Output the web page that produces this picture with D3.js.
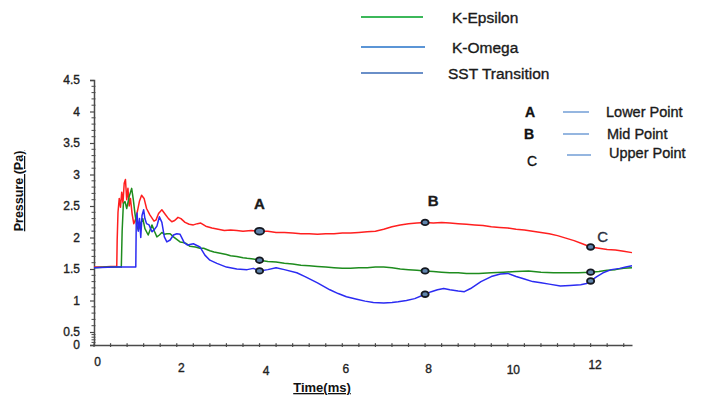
<!DOCTYPE html>
<html>
<head>
<meta charset="utf-8">
<script src="https://cdn.jsdelivr.net/npm/d3@7"></script>
<style>
  html, body { margin: 0; padding: 0; background: #fff; }
  svg { display: block; font-family: "Liberation Sans", Arial, sans-serif; }
  .heavy { stroke-width: 0.35px; paint-order: fill; }
</style>
</head>
<body>
<svg id="chart" width="708" height="399"></svg>
<script>
// ---- data -------------------------------------------------------------
const timeTicks = [0, 2, 4, 6, 8, 10, 12];
const pressureTicks = [0, 0.5, 1, 1.5, 2, 2.5, 3, 3.5, 4, 4.5];

const modelNames = ["K-Epsilon", "K-Omega", "SST Transition"];
const modelLegendColors = ["#3cb85a", "#5b95d6", "#6a8fc8"];

const probeLetters = ["A", "B", "C"];
const probeNames = ["Lower Point", "Mid Point", "Upper Point"];
const probeTimes = [4, 8, 12];

// pressure histories: [time (ms), pressure (Pa)]
const redSeries = [
  [0,1.53],[0.2,1.53],[0.4,1.54],[0.55,1.54],[0.56,1.96],[0.58,2.40],[0.61,2.62],[0.64,2.48],
  [0.67,2.72],[0.70,2.55],[0.73,2.86],[0.76,2.92],[0.79,2.60],[0.82,2.78],[0.85,2.50],[0.88,2.62],
  [0.92,2.38],[0.96,2.22],[1.00,2.28],[1.05,2.42],[1.10,2.58],[1.15,2.67],[1.21,2.62],[1.27,2.46],
  [1.35,2.36],[1.45,2.26],[1.50,2.28],[1.56,2.38],[1.64,2.44],[1.72,2.37],[1.80,2.30],[1.88,2.25],
  [1.95,2.27],[2.03,2.32],[2.10,2.30],[2.20,2.24],[2.30,2.21],[2.40,2.20],[2.50,2.22],[2.58,2.23],
  [2.70,2.18],[2.85,2.15],[3.0,2.13],[3.15,2.11],[3.3,2.12],[3.45,2.11],[3.6,2.10],[3.8,2.11],
  [4.0,2.10],[4.2,2.10],[4.4,2.08],[4.6,2.08],[4.8,2.07],[5.0,2.06],[5.2,2.06],[5.4,2.05],
  [5.6,2.06],[5.8,2.06],[6.0,2.07],[6.2,2.07],[6.4,2.08],[6.6,2.09],[6.8,2.10],[7.0,2.13],
  [7.2,2.17],[7.4,2.20],[7.6,2.22],[7.8,2.23],[8.0,2.24],[8.2,2.23],[8.4,2.24],[8.6,2.23],
  [8.8,2.22],[9.0,2.21],[9.2,2.20],[9.4,2.19],[9.6,2.17],[9.8,2.16],[10.0,2.15],[10.2,2.13],
  [10.4,2.12],[10.6,2.10],[10.8,2.08],[11.0,2.06],[11.2,2.03],[11.4,1.99],[11.6,1.95],[11.8,1.90],
  [12.0,1.85],[12.2,1.83],[12.4,1.81],[12.6,1.80],[12.8,1.78],[13.0,1.76]
];

const greenSeries = [
  [0,1.52],[0.3,1.53],[0.66,1.53],[0.68,2.10],[0.71,2.54],[0.75,2.57],[0.79,2.46],[0.85,2.65],
  [0.91,2.78],[0.95,2.60],[0.99,2.38],[1.03,2.20],[1.07,2.12],[1.11,2.20],[1.18,2.30],[1.23,2.14],
  [1.31,2.04],[1.40,2.20],[1.46,2.10],[1.52,2.01],[1.58,2.04],[1.64,2.08],[1.70,2.05],[1.76,2.06],
  [1.84,2.06],[1.92,2.01],[2.0,1.97],[2.08,1.93],[2.16,1.92],[2.24,1.90],[2.32,1.86],[2.45,1.85],
  [2.56,1.83],[2.65,1.83],[2.8,1.79],[2.9,1.77],[3.05,1.75],[3.2,1.73],[3.3,1.71],[3.45,1.70],
  [3.6,1.68],[3.7,1.67],[3.85,1.66],[4.0,1.64],[4.2,1.62],[4.4,1.61],[4.6,1.59],[4.8,1.58],
  [5.0,1.56],[5.2,1.55],[5.4,1.54],[5.6,1.53],[5.8,1.52],[6.0,1.51],[6.2,1.51],[6.4,1.52],
  [6.6,1.52],[6.8,1.53],[7.0,1.53],[7.2,1.52],[7.4,1.50],[7.6,1.49],[7.8,1.48],[8.0,1.47],
  [8.2,1.46],[8.4,1.45],[8.6,1.44],[8.8,1.44],[9.0,1.43],[9.3,1.43],[9.6,1.44],[9.9,1.45],
  [10.2,1.46],[10.5,1.47],[10.8,1.45],[11.1,1.44],[11.4,1.44],[11.7,1.44],[12.0,1.45],[12.2,1.46],
  [12.4,1.48],[12.6,1.49],[12.8,1.51],[13.0,1.52]
];

const blueSeries = [
  [0,1.52],[0.5,1.53],[1.01,1.53],[1.02,2.20],[1.04,2.39],[1.07,2.10],[1.10,2.30],[1.13,2.00],
  [1.16,2.35],[1.20,2.44],[1.23,2.30],[1.27,2.22],[1.33,2.20],[1.40,2.09],[1.45,2.12],[1.52,2.18],
  [1.58,2.33],[1.64,2.24],[1.70,2.01],[1.76,1.93],[1.84,1.96],[1.92,2.04],[2.0,2.06],[2.08,2.05],
  [2.18,1.92],[2.26,1.88],[2.40,1.90],[2.56,1.85],[2.68,1.72],[2.80,1.64],[2.97,1.59],[3.2,1.53],
  [3.45,1.50],[3.7,1.49],[3.85,1.51],[4.0,1.47],[4.2,1.49],[4.4,1.52],[4.6,1.49],[4.9,1.44],
  [5.1,1.38],[5.4,1.28],[5.7,1.17],[5.9,1.11],[6.1,1.06],[6.35,1.02],[6.55,0.99],[6.75,0.97],
  [7.0,0.96],[7.2,0.97],[7.35,0.98],[7.55,1.00],[7.75,1.03],[8.0,1.10],[8.15,1.14],[8.3,1.17],
  [8.45,1.19],[8.6,1.17],[8.8,1.15],[8.95,1.14],[9.1,1.19],[9.35,1.30],[9.6,1.38],[9.82,1.42],
  [10.0,1.43],[10.2,1.38],[10.4,1.34],[10.6,1.30],[10.8,1.28],[11.0,1.26],[11.27,1.23],[11.5,1.24],
  [11.76,1.25],[11.9,1.27],[12.0,1.31],[12.15,1.38],[12.3,1.44],[12.5,1.49],[12.7,1.51],[12.85,1.53],
  [13.0,1.55]
];

const curves = [
  { values: redSeries,   color: "#ff1f1f" },
  { values: greenSeries, color: "#1e8c1e" },
  { values: blueSeries,  color: "#2b2bf2" }
];

// ---- layout ------------------------------------------------------------
const svg = d3.select("#chart");
const x = d3.scaleLinear().domain([0, 13]).range([94, 632]);
// the axis compresses the 0 – 0.5 band
const y = d3.scaleLinear().domain([0, 0.5, 4.5]).range([345, 332, 80]);

const axisColor = "#4a4a4a";
const labelColor = "#222";

// x tick label nudges (dx, baseline)
const xLabelNudge = [[3, 366], [4, 372], [6, 375], [3, 373], [3, 373], [5, 374], [4, 369]];

// ---- axes ----------------------------------------------------------------
const axes = svg.append("g");

// y axis
const yAxis = axes.append("g").attr("transform", `translate(${x(0)},0)`)
  .call(d3.axisLeft(y).tickValues(pressureTicks).tickSize(4).tickPadding(10)
    .tickFormat(d3.format("")));
yAxis.select(".domain").attr("stroke", axisColor).attr("stroke-width", 1.5);
yAxis.selectAll(".tick line").attr("stroke", axisColor).attr("stroke-width", 1.2).attr("x2", -4);
yAxis.selectAll(".tick text").attr("fill", labelColor).attr("font-size", 12)
  .attr("font-family", "Liberation Sans, Arial, sans-serif").attr("x", -14)
  .attr("class", "heavy").attr("stroke", labelColor);

axes.append("g").selectAll("line")
  .data(d3.range(0, 45).map(i => i / 10).filter(v => !pressureTicks.includes(v)))
  .join("line")
  .attr("x1", x(0) - 2.5).attr("x2", x(0) + 1.5)
  .attr("y1", d => y(d)).attr("y2", d => y(d))
  .attr("stroke", axisColor).attr("stroke-width", 1);

// x axis
const xAxis = axes.append("g").attr("transform", `translate(0,${y(0)})`)
  .call(d3.axisBottom(x).tickValues(timeTicks).tickSize(0).tickFormat(d3.format("")));
xAxis.select(".domain").attr("stroke", axisColor).attr("stroke-width", 1.5);
xAxis.selectAll(".tick text").attr("fill", labelColor).attr("font-size", 12)
  .attr("font-family", "Liberation Sans, Arial, sans-serif")
  .attr("class", "heavy").attr("stroke", labelColor)
  .attr("dy", null)
  .attr("x", (d, i) => xLabelNudge[i][0])
  .attr("y", (d, i) => xLabelNudge[i][1] - y(0));

axes.append("g").selectAll("line")
  .data(d3.range(0, 33).map(i => i * 0.4))
  .join("line")
  .attr("x1", d => x(d)).attr("x2", d => x(d))
  .attr("y1", y(0) - 1.8).attr("y2", y(0) + 2)
  .attr("stroke", axisColor).attr("stroke-width", 1.2);

// axis titles
svg.append("text")
  .attr("transform", `translate(23,191) rotate(-90)`)
  .attr("text-anchor", "middle")
  .attr("font-size", 12.5).attr("font-weight", "bold").attr("fill", "#111")
  .style("text-decoration", "underline")
  .text("Pressure (Pa)");

svg.append("text")
  .attr("x", 322).attr("y", 392)
  .attr("text-anchor", "middle")
  .attr("font-size", 13).attr("font-weight", "bold").attr("fill", "#111")
  .style("text-decoration", "underline")
  .text("Time(ms)");

// ---- curves -----------------------------------------------------------------
const line = d3.line().x(d => x(d[0])).y(d => y(d[1]));

svg.append("g").selectAll("path")
  .data(curves)
  .join("path")
  .attr("d", d => line(d.values))
  .attr("fill", "none")
  .attr("stroke", d => d.color)
  .attr("stroke-width", 1.5)
  .attr("stroke-linejoin", "round");

// probe markers on every curve
const bisect = d3.bisector(d => d[0]).left;
function valueAt(values, t) {
  const i = Math.max(1, Math.min(values.length - 1, bisect(values, t)));
  const a = values[i - 1], b = values[i];
  return a[1] + (b[1] - a[1]) * (t - a[0]) / (b[0] - a[0]);
}

const markers = [];
curves.forEach((c, ci) => probeTimes.forEach(t => markers.push({ t, p: valueAt(c.values, t), big: ci === 0 && t === probeTimes[0] })));

svg.append("g").selectAll("ellipse")
  .data(markers)
  .join("ellipse")
  .attr("cx", d => x(d.t)).attr("cy", d => y(d.p))
  .attr("rx", d => d.big ? 4.6 : 3.6).attr("ry", d => d.big ? 3.4 : 2.8)
  .attr("fill", "#5f84ad").attr("stroke", "#151820").attr("stroke-width", 1.8);

// probe letters above the curves
const letterStyle = [
  { dx: 0,  y: 209, weight: "bold",   color: "#1a1a1a" },
  { dx: 8,  y: 206, weight: "bold",   color: "#1a1a1a" },
  { dx: 12, y: 242, weight: "normal", color: "#2a3040" }
];
svg.append("g").selectAll("text")
  .data(probeLetters)
  .join("text")
  .attr("x", (d, i) => x(probeTimes[i]) + letterStyle[i].dx)
  .attr("y", (d, i) => letterStyle[i].y)
  .attr("text-anchor", "middle")
  .attr("font-size", 15)
  .attr("font-weight", (d, i) => letterStyle[i].weight)
  .attr("fill", (d, i) => letterStyle[i].color)
  .attr("class", "heavy").attr("stroke", (d, i) => letterStyle[i].color)
  .text(d => d);

// ---- legends -------------------------------------------------------------------
const modelRows = [17, 47, 73];
const modelLegend = svg.append("g");
modelNames.forEach((name, i) => {
  modelLegend.append("line")
    .attr("x1", 361).attr("x2", i === 1 ? 425 : 423)
    .attr("y1", modelRows[i]).attr("y2", modelRows[i])
    .attr("stroke", modelLegendColors[i]).attr("stroke-width", 2);
  modelLegend.append("text")
    .attr("x", i === 2 ? 448 : 452).attr("y", modelRows[i] + 6)
    .attr("font-size", 15.5).attr("fill", "#1a1a1a")
    .attr("class", "heavy").attr("stroke", "#1a1a1a")
    .text(name);
});

const probeRows = [
  { letterX: 530, letterY: 117, lineX: [563, 589], lineY: 112, textX: 606, textY: 117 },
  { letterX: 529, letterY: 139, lineX: [563, 589], lineY: 134, textX: 607, textY: 139 },
  { letterX: 532, letterY: 166, lineX: [567, 591], lineY: 155, textX: 609, textY: 158 }
];
const probeLegend = svg.append("g");
probeLetters.forEach((letter, i) => {
  const r = probeRows[i];
  probeLegend.append("text")
    .attr("x", r.letterX).attr("y", r.letterY).attr("text-anchor", "middle")
    .attr("font-size", 14).attr("font-weight", i < 2 ? "bold" : "normal").attr("fill", "#111")
    .attr("class", "heavy").attr("stroke", "#111")
    .text(letter);
  probeLegend.append("line")
    .attr("x1", r.lineX[0]).attr("x2", r.lineX[1])
    .attr("y1", r.lineY).attr("y2", r.lineY)
    .attr("stroke", "#5b8fd0").attr("stroke-width", 1.3);
  probeLegend.append("text")
    .attr("x", r.textX).attr("y", r.textY)
    .attr("font-size", 14.5).attr("fill", "#1a1a1a")
    .attr("class", "heavy").attr("stroke", "#1a1a1a")
    .text(probeNames[i]);
});
</script>
</body>
</html>
